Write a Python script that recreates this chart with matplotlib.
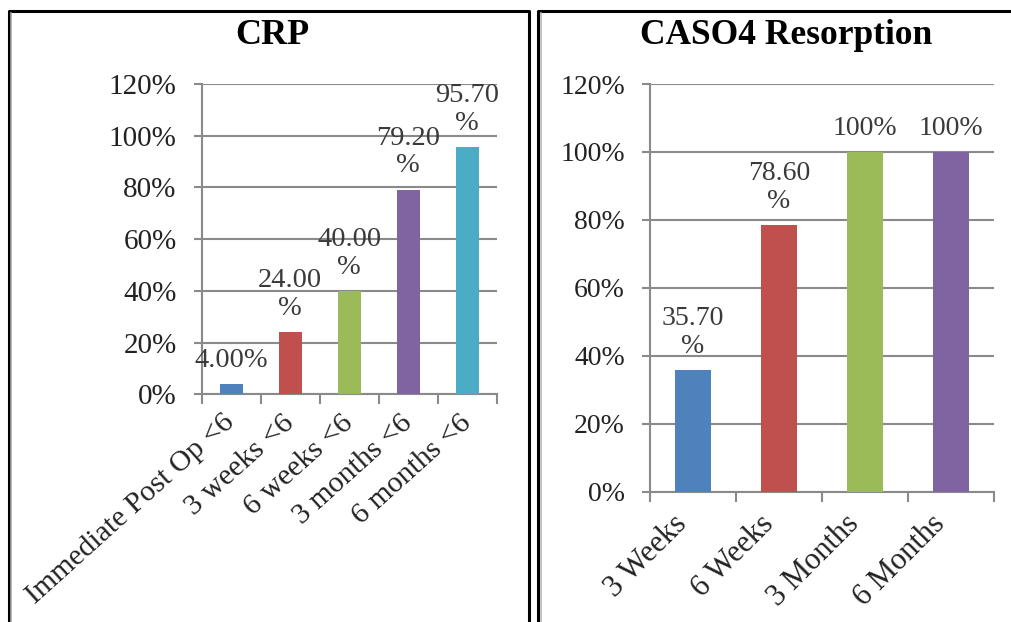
import matplotlib
matplotlib.use("Agg")
import matplotlib.pyplot as plt
from matplotlib.lines import Line2D
from matplotlib.ticker import FixedLocator, FuncFormatter
from matplotlib.transforms import ScaledTranslation

# CRP normalisation (% of patients)
crp_labels = ["Immediate Post Op <6", "3 weeks <6", "6 weeks <6",
              "3 months <6", "6 months <6"]
crp_values = [4.0, 24.0, 40.0, 79.2, 95.7]
crp_wrap = [False, True, True, True, True]

# calcium sulphate resorption (%)
caso_labels = ["3 Weeks", "6 Weeks", "3 Months", "6 Months"]
caso_values = [35.7, 78.6, 100.0, 100.0]
caso_wrap = [True, True, False, False]

y_ticks = [0, 20, 40, 60, 80, 100, 120]

crp_colors = ["#4F81BD", "#C0504D", "#9BBB59", "#8064A2", "#4BACC6"]
caso_colors = ["#4F81BD", "#C0504D", "#9BBB59", "#8064A2"]

AXIS_GREY = "#8a8a8a"
W, H = 1012, 622

plt.rcParams["font.family"] = ["Liberation Serif", "DejaVu Serif"]


def value_text(v, wrap):
    s = f"{v:.0f}" if v >= 100 else f"{v:.2f}"
    return s + ("\n%" if wrap else "%")


def px_axes(fig, x0, x1, y_top, y_bot):
    return fig.add_axes([x0 / W, 1 - y_bot / H, (x1 - x0) / W, (y_bot - y_top) / H])


def bar_panel(ax, labels, values, colors, wrap, width, tick_fs, lab_fs,
              val_fs, rot, lab_pad, lab_dx=0):
    n = len(values)
    xs = list(range(n))
    ax.bar(xs, values, width=width, color=colors, zorder=3)
    ax.set_xlim(-0.5, n - 0.5)
    ax.set_ylim(0, 120)

    for side in ("top", "right"):
        ax.spines[side].set_visible(False)
    for side in ("left", "bottom"):
        ax.spines[side].set_color(AXIS_GREY)
        ax.spines[side].set_linewidth(1.5)

    ax.yaxis.set_major_locator(FixedLocator(y_ticks))
    ax.yaxis.set_major_formatter(FuncFormatter(lambda v, _: f"{v:.0f}%"))
    ax.grid(axis="y", color=AXIS_GREY, linewidth=1.5, zorder=0)
    ax.tick_params(axis="y", length=6, width=1.5, color=AXIS_GREY,
                   labelsize=tick_fs, labelcolor="#222222", pad=12)

    # category ticks sit on the boundaries, labels at the bar centres
    ax.set_xticks([i - 0.5 for i in range(n + 1)])
    ax.set_xticklabels([])
    ax.set_xticks(xs, minor=True)
    ticklabels = ax.set_xticklabels(labels, minor=True, rotation=rot,
                                    ha="right", va="center",
                                    rotation_mode="anchor", fontsize=lab_fs,
                                    color="#222222")
    ax.tick_params(axis="x", which="major", length=7, width=1.5,
                   color=AXIS_GREY)
    ax.tick_params(axis="x", which="minor", length=0, pad=lab_pad)
    if lab_dx:
        shift = ScaledTranslation(lab_dx / 100, 0, fig.dpi_scale_trans)
        for t in ticklabels:
            t.set_transform(t.get_transform() + shift)

    for x, v, w in zip(xs, values, wrap):
        ax.annotate(value_text(v, w), (x, v), xytext=(0, 8),
                    textcoords="offset points", ha="center", va="bottom",
                    fontsize=val_fs, color="#3a3a3a", linespacing=1.15,
                    zorder=4)


fig = plt.figure(figsize=(W / 100, H / 100), dpi=100)
fig.patch.set_facecolor("white")

ax1 = px_axes(fig, 201.7, 496.7, 84, 394.3)
bar_panel(ax1, crp_labels, crp_values, crp_colors, crp_wrap, 0.39,
          tick_fs=21, lab_fs=21.5, val_fs=20.5, rot=42, lab_pad=18)

ax2 = px_axes(fig, 650, 994, 84, 491.7)
bar_panel(ax2, caso_labels, caso_values, caso_colors, caso_wrap, 0.43,
          tick_fs=20, lab_fs=22, val_fs=20, rot=45, lab_pad=20, lab_dx=-10)

fig.text(272 / W, 1 - 36 / H, "CRP", ha="center", va="center",
         fontsize=26, fontweight="bold")
fig.text(786 / W, 1 - 36 / H, "CASO4 Resorption", ha="center", va="center",
         fontsize=25.5, fontweight="bold")


# panel frames: black outline with a faint grey inner edge
def fig_line(xs, ys, color, lw):
    fig.add_artist(Line2D([x / W for x in xs], [1 - y / H for y in ys],
                          color=color, linewidth=lw,
                          solid_capstyle="projecting"))


fig_line([8.7, 8.7, 529, 529], [H + 5, 11, 11, H + 5], "black", 2.2)
fig_line([11.5, 11.5], [13, H + 5], "#a8a8a8", 1.2)
fig_line([538.3, 538.3, W + 5], [H + 5, 11, 11], "black", 2.2)
fig_line([541, 541], [13, H + 5], "#b8b8b8", 1.2)

fig.savefig("out.png", dpi=100)
